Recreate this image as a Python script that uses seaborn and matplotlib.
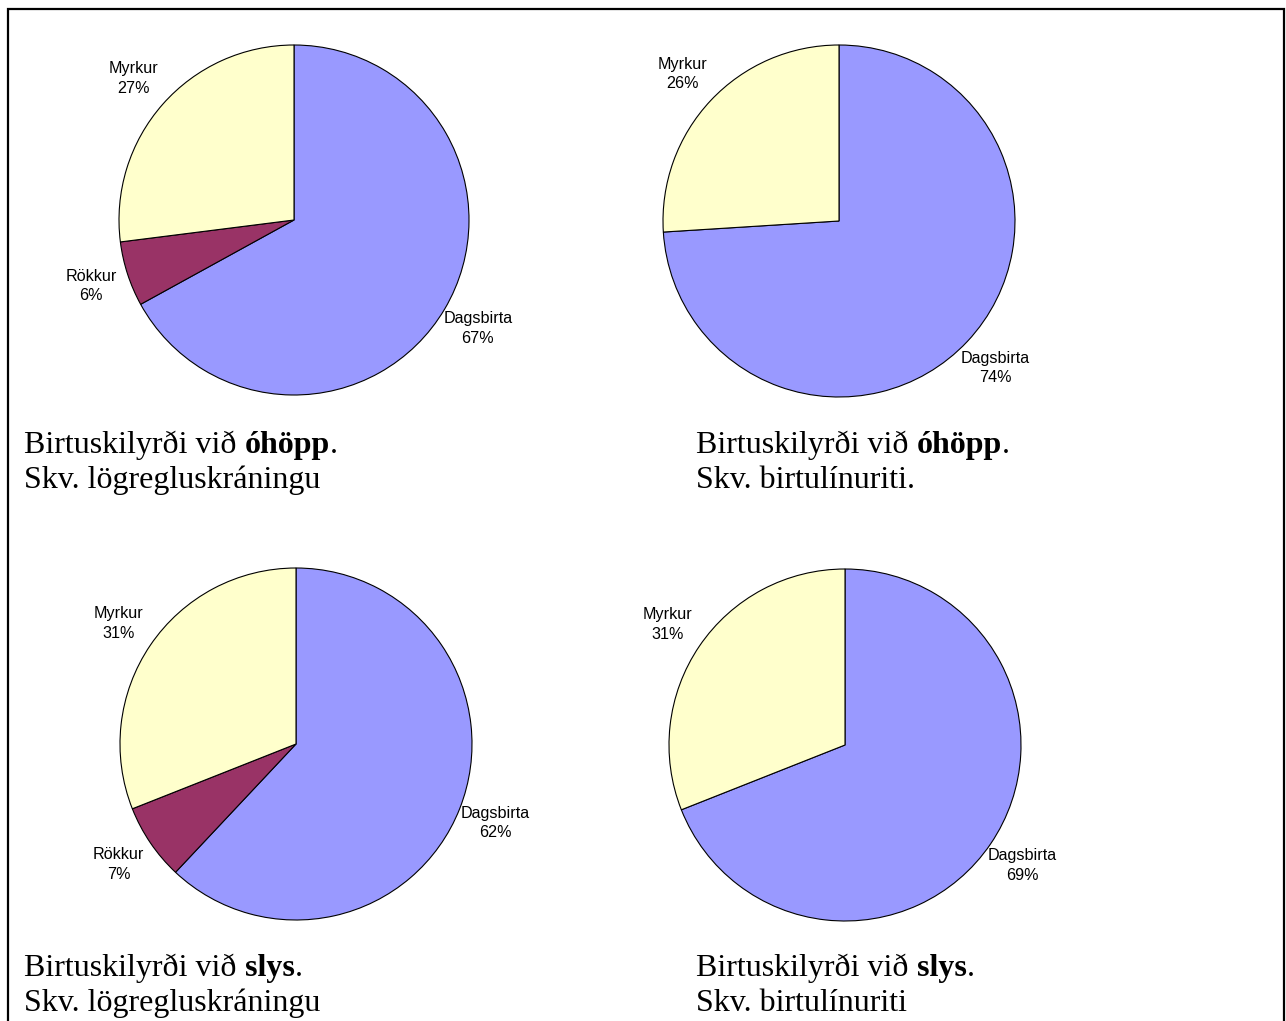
import matplotlib
matplotlib.use("Agg")
import matplotlib.pyplot as plt
import seaborn as sns
from matplotlib.patches import Rectangle
from matplotlib.text import Annotation

# Gögn
flokkar_3 = ["Dagsbirta", "Rökkur", "Myrkur"]
flokkar_2 = ["Dagsbirta", "Myrkur"]

ohopp_logregla = [67, 6, 27]
ohopp_birtulina = [74, 26]
slys_logregla = [62, 7, 31]
slys_birtulina = [69, 31]

litir = {"Dagsbirta": "#9999FF", "Rökkur": "#993366", "Myrkur": "#FFFFCC"}

fyrirsagnir = [
    ("Birtuskilyrði við", "óhöpp", ".", "Skv. lögregluskráningu"),
    ("Birtuskilyrði við", "óhöpp", ".", "Skv. birtulínuriti."),
    ("Birtuskilyrði við", "slys", ".", "Skv. lögregluskráningu"),
    ("Birtuskilyrði við", "slys", ".", "Skv. birtulínuriti"),
]

sns.set_theme(style="white")
plt.rcParams["font.family"] = ["Liberation Sans", "DejaVu Sans"]
plt.rcParams["text.color"] = "black"

W, H = 1286, 1021
fig = plt.figure(figsize=(W / 100, H / 100), dpi=100)


def px_axes(cx, cy, r):
    return fig.add_axes([(cx - r) / W, (H - cy - r) / H, 2 * r / W, 2 * r / H])


def teikna_koku(ax, flokkar, gildi):
    palette = sns.color_palette([litir[f] for f in flokkar])
    wedges, texts, autotexts = ax.pie(
        gildi,
        colors=palette,
        startangle=90,
        counterclock=False,
        autopct="%1.0f%%",
        pctdistance=1.22,
        wedgeprops=dict(edgecolor="black", linewidth=0.8),
        textprops=dict(fontsize=11.6, color="black"),
    )
    for t, f, v in zip(autotexts, flokkar, gildi):
        t.set_text(f"{f}\n{v}%")
        t.set_linespacing(1.4)
    ax.set_xlim(-1, 1)
    ax.set_ylim(-1, 1)
    ax.set_aspect("equal")
    ax.axis("off")


# Kökuritin
teikna_koku(px_axes(294, 220, 175), flokkar_3, ohopp_logregla)
teikna_koku(px_axes(839, 221, 176), flokkar_2, ohopp_birtulina)
teikna_koku(px_axes(296, 744, 176), flokkar_3, slys_logregla)
teikna_koku(px_axes(845, 745, 176), flokkar_2, slys_birtulina)

# Textar undir
serif = ["Liberation Serif", "DejaVu Serif"]
stadir = [(24, 453), (696, 453), (24, 976), (696, 976)]
for (x, y), (a, feitt, punktur, lina2) in zip(stadir, fyrirsagnir):
    t1 = fig.text(x / W, 1 - y / H, a, fontsize=23, family=serif,
                  color="black", ha="left", va="baseline")
    t2 = fig.add_artist(Annotation(
        feitt, xy=(1, 0), xycoords=t1, xytext=(5.8, 0), textcoords="offset points",
        fontsize=23, family=serif, fontweight="bold", color="black",
        ha="left", va="bottom"))
    fig.add_artist(Annotation(
        punktur, xy=(1, 0), xycoords=t2, xytext=(0, 0), textcoords="offset points",
        fontsize=23, family=serif, color="black", ha="left", va="bottom"))
    fig.text(x / W, 1 - (y + 35) / H, lina2, fontsize=23, family=serif,
             color="black", ha="left", va="baseline")

# Rammi utan um
fig.patches.append(Rectangle((8 / W, -0.05), (1284 - 8) / W, 1 - 9 / H + 0.05,
                             transform=fig.transFigure, fill=False,
                             edgecolor="black", linewidth=1.6))

fig.savefig("out.png", dpi=100, facecolor="white")
